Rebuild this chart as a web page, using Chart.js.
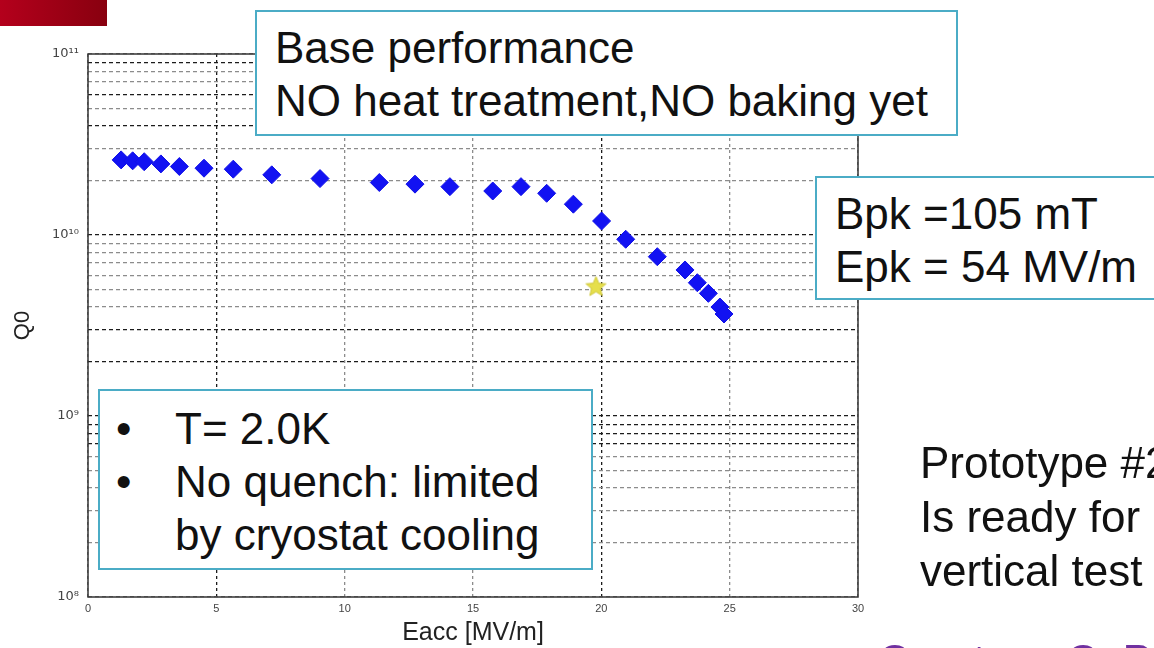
<!DOCTYPE html>
<html><head><meta charset="utf-8">
<script src="https://cdn.jsdelivr.net/npm/chart.js@4/dist/chart.umd.min.js"></script>
<style>
html,body{margin:0;padding:0;background:#fff;overflow:hidden;width:1154px;height:648px;}
#wrap{position:relative;width:1154px;height:648px;overflow:hidden;background:#fff;}
#c{position:absolute;left:0;top:0;}
.box{position:absolute;background:#fff;border:2px solid #4bacc6;box-sizing:border-box;font-family:"Liberation Sans",Arial,sans-serif;font-size:44px;line-height:53px;color:#111;white-space:nowrap;}
.txt{position:absolute;font-family:"Liberation Sans",Arial,sans-serif;font-size:44px;line-height:54px;color:#111;white-space:nowrap;}
.bul{position:absolute;left:16px;}
#red{position:absolute;left:0;top:0;width:107px;height:26px;background:linear-gradient(to right,#b4001c,#88000f);}
</style></head>
<body>
<div id="wrap">
<canvas id="c" width="1154" height="648"></canvas>
<div id="red"></div>
<div class="box" style="left:255px;top:10px;width:703px;height:126px;padding:9px 0 0 18px;">Base performance<br>NO heat treatment,NO baking yet</div>
<div class="box" style="left:815px;top:176px;width:400px;height:124px;padding:9px 0 0 18px;">Bpk =105 mT<br>Epk = 54 MV/m</div>
<div class="box" style="left:98px;top:389px;width:495px;height:181px;padding:11px 0 0 75px;">
<span class="bul" style="top:11px;">•</span>T= 2.0K<br>
<span class="bul" style="top:64px;">•</span>No quench: limited<br>by cryostat cooling</div>
<div class="txt" style="left:920px;top:436px;">Prototype #2<br>Is ready for<br>vertical test</div>
<div class="txt" style="left:878px;top:634px;color:#7030a0;">Courtesy C. P.</div>
</div>
<script>
// ---- data ----
const eacc = [1.29,1.74,2.19,2.84,3.56,4.52,5.66,7.16,9.04,11.35,12.74,14.10,15.77,16.87,17.87,18.91,20.01,20.95,22.18,23.26,23.74,24.17,24.62,24.78];
const q0 = [2.60e10,2.57e10,2.54e10,2.47e10,2.39e10,2.34e10,2.31e10,2.15e10,2.05e10,1.95e10,1.91e10,1.85e10,1.75e10,1.85e10,1.70e10,1.48e10,1.195e10,9.47e9,7.59e9,6.41e9,5.45e9,4.76e9,4.00e9,3.66e9];
const starEacc = [19.79];
const starQ0 = [5.16e9];
const xTickValues = [0,5,10,15,20,25,30];
const yDecades = [1e8,1e9,1e10,1e11];
const yTickLabels = ['10\u2078','10\u2079','10\u00b9\u2070','10\u00b9\u00b9'];
const yMinorMult = [2,3,4,5,6,7,8,9];
const darkY = [7e8,8e8,9e8,1e9,2e9,3e9,1e10,4e10,6e10,9e10];
const darkX = [5,20];

const yGridValues = [];
for (let i = 0; i < yDecades.length; i++) {
  yGridValues.push(yDecades[i]);
  if (i < yDecades.length - 1) yMinorMult.forEach(m => yGridValues.push(m * yDecades[i]));
}
yGridValues.sort((a,b)=>a-b);

const DARK = '#1c1c1c', LIGHT = '#8c8c8c';

// filled five-point star marker
function makeStar(r) {
  const s = Math.ceil(r*2+4), c = document.createElement('canvas');
  c.width = s; c.height = s;
  const g = c.getContext('2d'), cx = s/2, cy = s/2, ri = r*0.45;
  g.beginPath();
  for (let k = 0; k < 10; k++) {
    const rad = k % 2 ? ri : r, a = -Math.PI/2 + k*Math.PI/5;
    g.lineTo(cx + rad*Math.cos(a), cy + rad*Math.sin(a));
  }
  g.closePath();
  g.fillStyle = '#e6df4c'; g.fill();
  g.strokeStyle = '#cfc83a'; g.lineWidth = 1; g.stroke();
  return c;
}

const frame = {
  id: 'frame',
  beforeDatasetsDraw(chart) {
    const {ctx, chartArea: a} = chart;
    ctx.save();
    ctx.strokeStyle = '#333'; ctx.lineWidth = 1.5;
    ctx.strokeRect(a.left, a.top, a.right - a.left, a.bottom - a.top);
    ctx.restore();
  }
};

new Chart(document.getElementById('c'), {
  type: 'scatter',
  data: {
    datasets: [
      { data: eacc.map((x,i)=>({x, y:q0[i]})), pointStyle:'rectRot', pointRadius:9,
        backgroundColor:'#1212f2', borderColor:'#1010e8', borderWidth:1 },
      { data: starEacc.map((x,i)=>({x, y:starQ0[i]})), pointStyle: makeStar(10.5), pointRadius:10 }
    ]
  },
  options: {
    responsive:false, animation:false,
    layout:{padding:{left:0,right:296,top:54,bottom:0}},
    plugins:{legend:{display:false}, tooltip:{enabled:false}},
    scales:{
      x:{ type:'linear', min:0, max:30,
        afterBuildTicks: s => { s.ticks = xTickValues.map(v=>({value:v})); },
        afterFit: s => { s.height = 51; },
        ticks:{ autoSkip:false, padding:5, color:'#444', font:{family:'Liberation Sans', size:11}, maxRotation:0 },
        grid:{ color: c => (c.tick && darkX.includes(c.tick.value)) ? DARK : LIGHT, lineWidth:1.3, drawTicks:false },
        border:{ display:false, dash:[3,3] },
        title:{ display:true, text:'Eacc [MV/m]', color:'#222', font:{family:'Liberation Sans', size:25}, padding:{top:0,bottom:0} }
      },
      y:{ type:'logarithmic', min:1e8, max:1e11,
        afterBuildTicks: s => { s.ticks = yGridValues.map(v=>({value:v})); },
        afterFit: s => { s.width = 88; },
        ticks:{ autoSkip:false, padding:9, color:'#444', font:{family:'DejaVu Sans', size:13},
          callback: v => { const i = yDecades.indexOf(v); return i >= 0 ? yTickLabels[i] : ''; } },
        grid:{ color: c => (c.tick && darkY.includes(c.tick.value)) ? DARK : LIGHT, lineWidth:1.3, drawTicks:false },
        border:{ display:false, dash:[4,3] },
        title:{ display:true, text:'Q0', color:'#222', font:{family:'Liberation Sans', size:22}, padding:{top:10,bottom:0} }
      }
    }
  },
  plugins:[frame]
});
</script>
</body></html>
